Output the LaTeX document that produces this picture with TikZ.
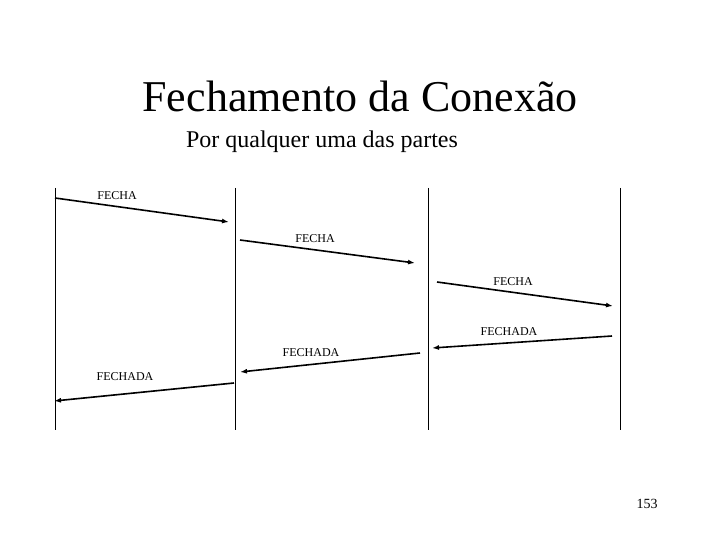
\documentclass[tikz,border=0pt]{standalone}
\usepackage{fontspec}
\setmainfont{Liberation Serif}
\usetikzlibrary{arrows.meta}

\tikzset{
	msg/.style={-{Latex[length=7pt,width=5pt]}, line width=1.6pt},
	life/.style={line width=1pt},
	lbl/.style={font=\fontsize{12}{14}\selectfont, inner sep=0pt}
}

\begin{document}
\begin{tikzpicture}[x=1pt,y=-1pt]
	\useasboundingbox (0,0) rectangle (720,540);
	\node (title) at (360,96) {\fontsize{44}{50}\selectfont Fechamento da Conexão};
	\node (sub) at (322,142) {\fontsize{24}{28}\selectfont Por qualquer uma das partes};
	% lifelines
	\coordinate (t1) at (55,188); \coordinate (b1) at (55,430);
	\coordinate (t2) at (235,188); \coordinate (b2) at (235,430);
	\coordinate (t3) at (428,188); \coordinate (b3) at (428,430);
	\coordinate (t4) at (620,188); \coordinate (b4) at (620,430);
	\draw [life] (t1) -- (b1);
	\draw [life] (t2) -- (b2);
	\draw [life] (t3) -- (b3);
	\draw [life] (t4) -- (b4);
	% FECHA
	\coordinate (s1) at (55,198); \coordinate (e1) at (229,222);
	\coordinate (s2) at (240,240); \coordinate (e2) at (415,263);
	\coordinate (s3) at (437,282); \coordinate (e3) at (613,306);
	\draw [msg] (s1) -- (e1);
	\draw [msg] (s2) -- (e2);
	\draw [msg] (s3) -- (e3);
	\node [lbl] (f1) at (117,196) {FECHA};
	\node [lbl] (f2) at (315,239) {FECHA};
	\node [lbl] (f3) at (513,282) {FECHA};
	% FECHADA
	\coordinate (s4) at (612,336); \coordinate (e4) at (432,348);
	\coordinate (s5) at (420,353); \coordinate (e5) at (240,372);
	\coordinate (s6) at (234,383); \coordinate (e6) at (54,401);
	\draw [msg] (s4) -- (e4);
	\draw [msg] (s5) -- (e5);
	\draw [msg] (s6) -- (e6);
	\node [lbl] (d1) at (509,332) {FECHADA};
	\node [lbl] (d2) at (311,353) {FECHADA};
	\node [lbl] (d3) at (125,377) {FECHADA};
	\node (pg) at (647,504) {\fontsize{14}{16}\selectfont 153};
\end{tikzpicture}
\end{document}
